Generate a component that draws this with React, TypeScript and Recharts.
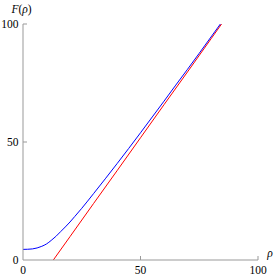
import React from 'react';
import { LineChart, Line, XAxis, YAxis } from 'recharts';

// Blue curve F(rho)
const rhoBlue = [0, 2, 4, 6, 8, 10, 12, 14, 16, 18, 20, 22, 25, 30, 35, 40, 45, 50, 55, 60, 65, 70, 75, 80, 84];
const fBlue = [4.5, 4.55, 4.7, 5.1, 5.8, 6.8, 8.3, 10.0, 12.0, 14.0, 16.1, 18.4, 21.9, 28.1, 34.4, 40.8, 47.3, 53.9, 60.6, 67.3, 74.1, 80.8, 87.6, 94.5, 100];

// Red asymptote
const rhoRed = [12.9, 20, 30, 40, 50, 60, 70, 80, 84.5];
const fRed = [0, 9.9, 23.9, 37.8, 51.8, 65.8, 79.7, 93.7, 100];

const xTicks = [0, 50, 100];
const yTicks = [0, 50, 100];

const blueData = rhoBlue.map((r, i) => ({ rho: r, f: fBlue[i] }));
const redData = rhoRed.map((r, i) => ({ rho: r, f: fRed[i] }));

const AXIS = '#999999';
const FONT = "'Liberation Serif', 'Times New Roman', Times, serif";
const FS = 11.5;
const YM = 4.5;
const XM = 10;

const textStyle: React.CSSProperties = { fontFamily: FONT, fontSize: FS, fill: '#000' };

const YTick = (props: any) => {
  const { x, y, payload } = props;
  const ax = x + YM;
  return (
    <g>
      {payload.value !== 0 && <line x1={ax} x2={ax + 4} y1={y} y2={y} stroke={AXIS} strokeWidth={1} />}
      <text x={x} y={y} textAnchor="end" dominantBaseline="central" style={textStyle}>
        {payload.value}
      </text>
    </g>
  );
};

const XTick = (props: any) => {
  const { x, y, payload } = props;
  const ay = y - XM;
  return (
    <g>
      {payload.value !== 0 && <line x1={x} x2={x} y1={ay} y2={ay - 4} stroke={AXIS} strokeWidth={1} />}
      <text x={x} y={y} textAnchor="middle" dominantBaseline="central" style={textStyle}>
        {payload.value}
      </text>
    </g>
  );
};

export default function App() {
  return (
    <div style={{ position: 'absolute', left: 0, top: 0, width: 277, height: 279, background: '#fff' }}>
      <LineChart width={277} height={279} margin={{ top: 24, right: 19, left: 0, bottom: 0 }}>
        <XAxis
          type="number"
          dataKey="rho"
          domain={[0, 100]}
          ticks={xTicks}
          allowDataOverflow
          height={19}
          tickSize={0}
          tickMargin={XM}
          tick={<XTick />}
          axisLine={{ stroke: AXIS, strokeWidth: 1 }}
          tickLine={false}
          label={{
            content: ({ viewBox }: any) => (
              <text
                x={viewBox.x + viewBox.width + 12}
                y={viewBox.y - 7.5}
                textAnchor="middle"
                dominantBaseline="central"
                style={{ ...textStyle, fontStyle: 'italic' }}
              >
                ρ
              </text>
            ),
          }}
        />
        <YAxis
          type="number"
          dataKey="f"
          domain={[0, 100]}
          ticks={yTicks}
          allowDataOverflow
          width={23}
          tickSize={0}
          tickMargin={YM}
          tick={<YTick />}
          axisLine={{ stroke: AXIS, strokeWidth: 1 }}
          tickLine={false}
          label={{
            content: ({ viewBox }: any) => (
              <text
                x={viewBox.x + viewBox.width - 1.5}
                y={viewBox.y - 15.5}
                textAnchor="middle"
                dominantBaseline="central"
                style={textStyle}
              >
                <tspan fontStyle="italic">F</tspan>
                <tspan>(</tspan>
                <tspan fontStyle="italic">ρ</tspan>
                <tspan>)</tspan>
              </text>
            ),
          }}
        />
        <Line
          data={redData}
          dataKey="f"
          type="linear"
          stroke="#ff0000"
          strokeWidth={1}
          dot={false}
          isAnimationActive={false}
        />
        <Line
          data={blueData}
          dataKey="f"
          type="monotone"
          stroke="#0000ff"
          strokeWidth={1}
          dot={false}
          isAnimationActive={false}
        />
      </LineChart>
    </div>
  );
}
